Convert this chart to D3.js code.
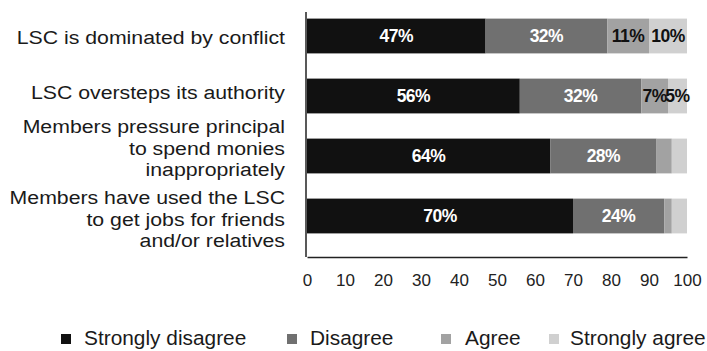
<!DOCTYPE html>
<html><head><meta charset="utf-8">
<script src="https://cdn.jsdelivr.net/npm/d3@7"></script>
<style>body{margin:0;background:#fff;}svg{display:block;font-family:"Liberation Sans",Arial,Helvetica,sans-serif;}</style>
</head><body><svg id="c" width="707" height="351"></svg>
<script>
const categories = [
  ["LSC is dominated by conflict"],
  ["LSC oversteps its authority"],
  ["Members pressure principal","to spend monies","inappropriately"],
  ["Members have used the LSC","to get jobs for friends","and/or relatives"]
];
const seriesNames = ["Strongly disagree","Disagree","Agree","Strongly agree"];
const stronglyDisagree = [47,56,64,70];
const disagree = [32,32,28,24];
const agree = [11,7,4,2];
const stronglyAgree = [10,5,4,4];
const showLabel = [[true,true,true,true],[true,true,true,true],[true,true,false,false],[true,true,false,false]];
const xTicks = [0,10,20,30,40,50,60,70,80,90,100];
const colors = ["#111111","#707070","#a2a2a2","#d0d0d0"];
const labelColors = ["#ffffff","#ffffff","#111111","#111111"];

const svg = d3.select("#c");
const x = d3.scaleLinear().domain([0,100]).range([307,687]);
const y = d3.scaleBand().domain(d3.range(categories.length)).range([6,246]).paddingInner(0.42).paddingOuter(0.21);

const seriesVals = [stronglyDisagree, disagree, agree, stronglyAgree];
const rows = categories.map((c,i)=>{
  let acc=0; return seriesVals.map((s,k)=>{const o={i,k,x0:acc,x1:acc+s[i],v:s[i]}; acc+=s[i]; return o;});
});

const g = svg.append("g");
rows.forEach(r=>{
  g.selectAll(null).data(r).enter().append("rect")
    .attr("x",d=>x(d.x0)).attr("width",d=>x(d.x1)-x(d.x0))
    .attr("y",d=>y(d.i)).attr("height",y.bandwidth())
    .attr("fill",d=>colors[d.k]);
  g.selectAll(null).data(r.filter(d=>showLabel[d.i][d.k])).enter().append("text")
    .attr("x",d=>x((d.x0+d.x1)/2)).attr("y",d=>y(d.i)+y.bandwidth()/2)
    .attr("text-anchor","middle").attr("dominant-baseline","central")
    .attr("font-size",17.5).attr("font-weight","bold").attr("letter-spacing",-0.5)
    .attr("fill",d=>labelColors[d.k]).text(d=>d.v+"%");
});

// axes
const xAxis = svg.append("g").attr("transform","translate(0,257)")
  .call(d3.axisBottom(x).tickValues(xTicks).tickSize(0).tickPadding(17).tickFormat(d=>d));
xAxis.select(".domain").attr("stroke","#222").attr("stroke-width",1.5);
xAxis.selectAll("text").attr("font-size",17).attr("fill","#222").attr("font-family","Liberation Sans, Arial, sans-serif");

const yAxis = svg.append("g").attr("transform","translate(306,0)")
  .call(d3.axisLeft(y).tickSize(0).tickFormat(""));
yAxis.select(".domain").attr("d","M0,12V257").attr("stroke","#222").attr("stroke-width",1.5);

// category labels
const lineH = 21.5;
const blockShift = [1,-4,-8,3];
categories.forEach((lines,i)=>{
  const cy = y(i)+y.bandwidth()/2 + blockShift[i];
  const t = svg.append("g").attr("transform","translate(285,0) scale(1.12,1)")
    .append("text").attr("text-anchor","end").attr("font-size",19).attr("fill","#1a1a1a");
  lines.forEach((ln,j)=>{
    t.append("tspan").attr("x",0).attr("y",cy + (j-(lines.length-1)/2)*lineH)
      .attr("dominant-baseline","central").text(ln);
  });
});

// legend
const legX = [61,287,441,549];
const legTextX = [84,310,465,570];
const lg = svg.append("g").attr("transform","translate(0,338)");
seriesNames.forEach((n,k)=>{
  lg.append("rect").attr("x",legX[k]).attr("y",-4).attr("width",10).attr("height",10).attr("fill",colors[k]);
  lg.append("g").attr("transform",`translate(${legTextX[k]},0) scale(1.07,1)`)
    .append("text").attr("x",0).attr("y",0).attr("dominant-baseline","central")
    .attr("font-size",19.5).attr("fill","#1a1a1a").text(n);
});
</script></body></html>
